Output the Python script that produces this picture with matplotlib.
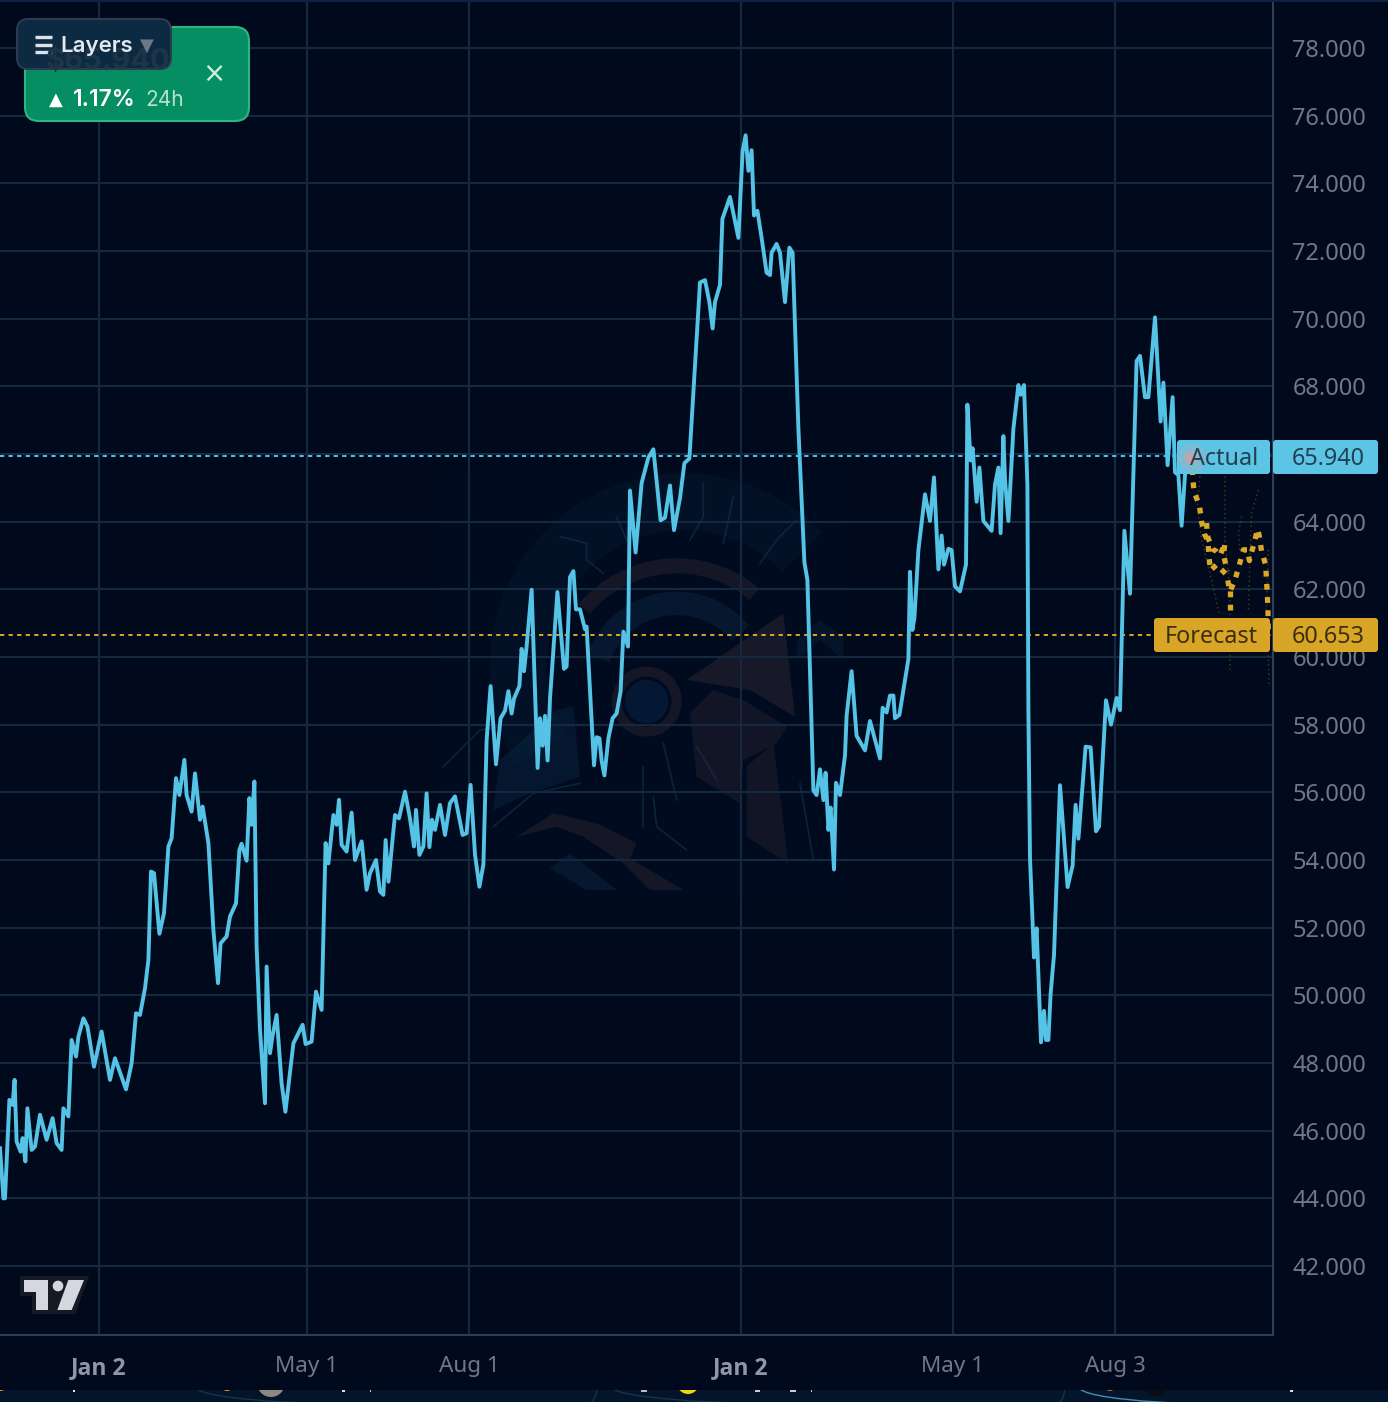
import matplotlib
matplotlib.use("Agg")
import matplotlib.pyplot as plt
from matplotlib.patches import FancyBboxPatch, Rectangle, Polygon, Circle, Wedge

# ---------- data (x = bar number on the time axis, y = price in thousands) ----------
price_bars = [0,1.7,2.5,4.7,6.3,7.3,8.3,10.3,11.3,12.7,13.7,15.8,17.5,20,23.3,26.3,28.3,30.8,31.7,34.2,35.8,38,39.2,41.7,43.7,47,50.8,55,57.5,63,65.8,68,70,72.5,74.2,75.5,77,79.7,82,84.2,85.8,88,89.7,92.2,93.3,95.8,97.5,100,101.3,104.2,106.7,109,110.3,113.3,115,118,119.7,120.8,123.3,124.7,125.8,127.2,128.3,130,132.5,133.3,135,136.2,138.3,140.8,142.7,146.7,151.3,152.8,155.8,158,160.8,162.8,164.2,166.7,168.3,169.5,170.8,173.3,175.8,177.5,180.8,183.3,185,188,190,191.7,192.8,194.2,197.5,199.5,202.5,205,207,208,209.7,211.7,213.3,214.7,216,217.5,220,222.5,225,227.5,231.3,233.3,235.3,
237.5,239.7,241.7,243.3,245.3,248,250.3,252.5,254.2,255.8,257,259.7,260.8,262,263.3,265.8,268.8,270,271.3,272.5,273.8,275,278.7,282,283.3,285,286.7,288,290,292.5,293.3,297,298.3,299.7,300.8,302.2,304.2,306.3,308.3,310.3,311.7,314,315,317.8,320.8,324.2,326.7,330.3,332.5,335,337,340,342.2,344.7,350,352.5,354.7,356.3,357.5,360,361.2,365,369.2,371.3,372.8,374.2,375.8,377,378.7,380.8,383.3,385,385.8,388.3,390,392.5,394.7,396.3,399.2,402.2,403.7,406.7,408.3,410,411.7,412.8,414.2,415.3,417,418,420,422.5,423.3,425.8,428.3,432.5,435,
440,441.3,443.3,445,446.7,447.5,449.7,454.2,455,456.2,457.2,459.2,462.5,465,467,469.2,470.8,472,474.2,475.8,477.5,480,483,483.7,485.3,486.3,488.3,489.7,491.7,495.8,497.5,499.2,500.3,501.7,502.5,504.2,506.7,509.2,510.3,512,513.7,514.2,515,517,518.3,520.5,522,523,524.2,525.3,527,530,533.8,536.3,537.8,539.2,542.8,545.3,548,549.5,553,555.5,558.3,560,562.2,565,568.3,570,572.5,574.2,577.5,580.3,581.7,583.8,586.3,587.5,589.2,590.8,592.5,594,596]
price_vals = [45.48,44.0,44.0,46.91,46.76,47.5,45.68,45.38,45.78,45.09,46.66,45.43,45.53,46.47,45.73,46.37,45.63,45.43,46.66,46.42,48.68,48.19,48.78,49.32,49.08,47.89,48.93,47.5,48.14,47.22,47.99,49.47,49.42,50.21,51.05,53.66,53.61,51.82,52.43,54.4,54.64,56.42,55.92,56.96,55.92,55.43,56.56,55.19,55.58,54.5,51.93,50.36,51.54,51.74,52.33,52.72,54.3,54.48,53.98,55.83,55.04,56.32,51.44,48.98,46.81,50.85,48.29,48.78,49.42,47.4,46.56,48.58,49.13,48.56,48.63,50.11,49.57,54.5,53.9,55.33,55.04,55.78,54.45,54.25,55.4,54.0,54.55,53.12,53.61,54.0,53.07,52.97,54.59,53.36,55.33,55.23,56.02,55.23,54.4,55.48,54.15,54.4,55.97,54.38,55.19,54.89,55.63,54.74,55.68,55.88,54.74,54.79,56.22,
54.16,53.21,53.87,57.53,59.14,56.83,58.19,58.41,58.99,58.33,58.77,59.14,60.24,59.58,60.31,61.99,56.72,58.19,57.38,58.26,56.94,58.77,61.92,59.65,59.72,62.36,62.54,61.41,61.41,60.82,60.9,56.8,57.63,57.6,56.94,56.5,57.6,58.19,58.33,58.99,60.75,60.31,64.92,63.09,65.14,65.9,66.14,64.04,64.12,65.07,63.75,64.7,65.73,65.87,71.07,71.14,70.49,69.71,70.49,71.0,72.95,73.6,72.39,74.95,75.42,74.37,74.98,73.05,73.19,72.39,71.36,71.29,71.95,72.21,71.95,70.49,72.1,71.95,66.75,62.8,62.28,56.06,55.92,56.68,55.77,56.58,54.89,55.55,53.72,56.28,55.92,57.09,58.26,59.58,57.67,57.24,58.11,
57.0,58.5,58.36,58.86,58.86,58.19,58.29,59.94,62.52,60.8,61.15,63.16,64.81,64.02,65.31,62.59,63.59,62.73,63.2,63.16,62.09,61.94,62.73,67.46,65.81,66.17,64.59,65.6,64.02,63.73,65.1,65.6,63.66,66.53,65.24,64.02,66.75,68.04,67.75,68.04,65.1,58.36,54.06,51.12,51.98,48.61,49.54,48.68,48.68,50.04,51.19,56.21,53.2,53.84,55.63,54.63,57.35,57.33,54.85,54.99,58.72,58.0,58.79,58.43,63.73,61.87,68.75,68.9,67.68,67.68,70.04,66.96,68.11,65.67,67.68,65.46,65.38,63.88,65.38,65.6,65.94]

forecast_bars = [596,596.3,597,599.7,600.8,602.2,604,604.5,605.3,608.3,610.8,613.3,615,617.5,619.7,621.7,623.7,624.7,626.7,628.8,629.7,630.8,632.8,633.3,633.7,634,634.2]
forecast_vals = [65.94,65.34,64.89,64.48,64.0,63.64,63.42,62.95,62.56,62.73,62.58,62.43,61.94,62.28,62.73,63.17,63.17,62.85,63.29,63.78,63.56,63.12,62.73,62.23,61.79,61.33,60.65]
branch_a_bars = [603.3,603.6,606,608.3,610,612.5,611.7,613.7]
branch_a_vals = [63.96,63.6,63.2,63.12,63.0,63.37,63.02,62.53]
branch_b_bars = [615,615]
branch_b_vals = [61.94,61.3]
scenario_bars = [[600,598.7,600.8,605.8,609.7],[612.5,612.5,614.2,615,615],[629.2,625.8,625,624.2],[620.8,619.2,620],[634.2,633.3,634.2,634.5]]
scenario_vals = [[65.34,64.45,63.46,62.28,61.25],[65.34,63.46,62.48,61.5,59.62],[64.94,64.25,62.97,61.4],[64.15,63.66,63.07],[63.17,61.49,60.0,59.13]]

actual_price = 65.94
forecast_price = 60.653
y_ticks = list(range(42, 80, 2))
y_tick_labels = [f"{v}.000" if v != 66 else "" for v in y_ticks]
x_ticks = [49.5, 153.5, 234.5, 370.5, 476.5, 557.5]
x_tick_labels = ["Jan 2", "May 1", "Aug 1", "Jan 2", "May 1", "Aug 3"]
x_tick_bold = [True, False, False, True, False, False]

BG = "#010a1c"; GRID = "#14283f"; SPINE = "#2a3f58"; TXT = "#6f7888"
CYAN = "#55c3e6"; GOLD = "#dba726"
W, H = 1388, 1402

plt.rcParams["font.family"] = ["Noto Sans", "DejaVu Sans"]
fig = plt.figure(figsize=(W/100, H/100), dpi=100, facecolor=BG)

def overlay(z):
    a = fig.add_axes([0, 0, 1, 1], zorder=z)
    a.set_xlim(0, W); a.set_ylim(H, 0); a.axis("off"); a.patch.set_alpha(0)
    return a

# ---------- watermark behind the chart ----------
lg = overlay(0)
def z(x, y): return (430 + x/3, 460 + y/3)
def zs(pts): return [z(*p) for p in pts]
BLUE = "#0b2a46"; BROWN = "#2a2430"
lg.add_patch(Rectangle((440, 470), 405, 430, fc="#010b1f", ec="none"))
lg.add_patch(Wedge(z(760, 620), 580/3, 150, 316, width=170/3, fc=BLUE, alpha=.2, ec="none"))
lg.add_patch(Wedge(z(740, 680), 385/3, 220, 310, width=45/3, fc=BROWN, alpha=.5, ec="none"))
lg.add_patch(Wedge(z(740, 680), 285/3, 200, 320, width=70/3, fc=BLUE, alpha=.45, ec="none"))
lg.add_patch(Wedge(z(650, 725), 105/3, 0, 360, width=30/3, fc=BROWN, alpha=.5, ec="none"))
lg.add_patch(Circle(z(650, 725), 65/3, fc="#08264a", alpha=.5, ec="none"))
for pts, c, al in [
    ([(770,660),(1060,460),(1095,770),(960,690)], BROWN, .55),
    ([(780,760),(850,690),(940,720),(1070,800),(1040,850),(940,900),(930,1030),(800,950)], BROWN, .42),
    ([(950,1130),(950,920),(1030,850),(1075,1210)], BROWN, .42),
    ([(260,1130),(370,1060),(500,1090),(620,1150),(600,1195),(760,1290),(660,1290),(580,1210),(460,1130),(380,1100)], BROWN, .5),
    ([(360,1225),(420,1180),(560,1290),(470,1290)], BLUE, .45),
    ([(430,740),(450,950),(300,1000),(190,1050),(210,900),(380,750)], BLUE, .42),
    ([(1170,480),(1240,530),(1240,600),(1170,540),(1100,600),(1100,540)], BLUE, .3),
]:
    lg.add_patch(Polygon(zs(pts), closed=True, fc=c, alpha=al, ec="none"))
for pts in [[(560,170),(590,240)], [(390,230),(470,250),(470,300),(520,340)], [(820,70),(820,170),(780,240)],
            [(910,110),(880,250)], [(1100,180),(1040,240),(990,310)], [(640,920),(640,1100)], [(700,850),(740,1020)],
            [(800,860),(860,960)], [(670,1010),(680,1100),(770,1170)], [(40,920),(150,810),(210,800)],
            [(190,1100),(310,1000),(450,970)], [(1110,970),(1150,1200)]]:
    xs, ys = zip(*zs(pts))
    lg.plot(xs, ys, color="#123352", lw=1.2, alpha=.6)

# ---------- main chart ----------
ax = fig.add_axes([0, 1 - 1335/H, 1273/W, 1335/H], zorder=1)
ax.patch.set_alpha(0)
ax.set_xlim(0, 636.5)
ax.set_ylim(39.96, 79.42)
ax.grid(True, color=GRID, lw=1.5)
ax.set_axisbelow(True)
ax.yaxis.tick_right()
ax.set_yticks(y_ticks, y_tick_labels)
ax.set_xticks(x_ticks, x_tick_labels)
ax.tick_params(axis="y", length=0, pad=14, labelsize=17, labelcolor=TXT)
ax.tick_params(axis="x", length=0, pad=14.8, labelsize=16.2, labelcolor=TXT)
for s in ("top", "left"):
    ax.spines[s].set_visible(False)
for s in ("right", "bottom"):
    ax.spines[s].set_color(SPINE); ax.spines[s].set_linewidth(1.5)

ax.axhline(actual_price, color=CYAN, lw=1.4, ls=(0, (2.2, 2.2)))
ax.axhline(forecast_price, color=GOLD, lw=1.4, ls=(0, (2.2, 2.2)))
for b, v in zip(scenario_bars, scenario_vals):
    ax.plot(b, v, color=GOLD, lw=1.1, ls=(0, (1, 2)), alpha=.28)
ax.plot(price_bars, price_vals, color=CYAN, lw=2.8, solid_joinstyle="round")
for b, v in [(forecast_bars, forecast_vals), (branch_a_bars, branch_a_vals), (branch_b_bars, branch_b_vals)]:
    ax.plot(b, v, color=GOLD, lw=3.8, ls=(0, (1.1, 1.4)))

fig.canvas.draw()
for tick, b in zip(ax.xaxis.get_major_ticks(), x_tick_bold):
    if b:
        tick.label1.set_family("Open Sans")
        tick.label1.set_fontweight("bold")
        tick.label1.set_fontsize(16.6)
        tick.label1.set_color("#8f97a6")

# ---------- interface chrome ----------
top = overlay(2)
top.add_patch(Rectangle((0, 0), W, 2, fc="#0d2240", ec="none"))
# bottom strip
strip = Rectangle((0, 1390), W, 12, transform=top.transData)
top.add_patch(Rectangle((0, 1390), W, 12, fc="#04152b", ec="none", zorder=1))
for x0, x1, ec in [(195, 597, "#17324c"), (611, 1065, "#17324c"), (1078, 1440, "#3f90b0")]:
    p = FancyBboxPatch((x0, 1300), x1-x0, 108, boxstyle="round,pad=0,rounding_size=22", fc="none", ec=ec, lw=1, zorder=2)
    top.add_patch(p)
    p.set_clip_path(strip)
for cx, cy, r, c in [(1, 1386, 5, "#e08a1c"), (227, 1385, 6, "#e8a010"), (271, 1383, 14, "#8f8880"),
                     (688, 1383, 11, "#f2d410"), (688, 1381, 9, "#d070a0"), (1110, 1386, 5, "#e0701c"), (1155, 1383, 13, "#0a0d14")]:
    d = Circle((cx, cy), r, fc=c, ec="none", zorder=4)
    top.add_patch(d)
    d.set_clip_path(strip)
for x, w, c in [(73,2,"#e8e8e8"),(342,3,"#dddddd"),(370,1.5,"#cccccc"),(641,6,"#bbbbbb"),(755,5,"#cccccc"),(790,6,"#cccccc"),(811,1.5,"#cccccc"),(1290,3,"#dddddd")]:
    top.add_patch(Rectangle((x, 1390), w, 1.6, fc=c, ec="none", zorder=4))

# green badge
top.add_patch(FancyBboxPatch((25, 27), 224, 94, boxstyle="round,pad=0,rounding_size=14", fc="#068e63", ec="#2fb585", lw=1.5))
top.text(56, 100, "▲", color="white", fontsize=13, ha="center", va="center", family="DejaVu Sans")
top.text(73, 100, "1.17%", color="white", fontsize=16.5, fontweight="semibold", family="Inter", ha="left", va="center")
top.text(145, 100, "24h", color="#b4e0cf", fontsize=15, family="Inter", ha="left", va="center")
top.text(214, 74, "×", color="#cfeee2", fontsize=20, ha="center", va="center", family="DejaVu Sans")
# layers button
lb = FancyBboxPatch((17, 19), 154, 50, boxstyle="round,pad=0,rounding_size=11", fc="#0c2a42", ec="#2b3b50", lw=1.5)
top.add_patch(lb)
ghost = top.text(46, 62, "$65.940", color="#1e3548", fontsize=21, fontweight="bold", family="Inter", ha="left", va="center")
ghost.set_clip_path(lb)
for yy in (37, 45, 52):
    top.plot([35, 52], [yy, yy], color="#dde2ea", lw=2.4, solid_capstyle="butt")
top.text(60, 45.5, "Layers", color="#e3e7ee", fontsize=16, fontweight="semibold", family="Inter", ha="left", va="center")
top.text(147, 46, "▼", color="#6f7888", fontsize=13, ha="center", va="center", family="DejaVu Sans")

# price labels
for x0, y0, h, c, tc, name, val in [
    (1177, 440, 34, "#5cc5e6", "#23404f", "Actual", "65.940"),
    (1154, 618, 34, "#d9a526", "#3a3010", "Forecast", "60.653"),
]:
    top.add_patch(FancyBboxPatch((x0, y0), 1270-x0, h, boxstyle="round,pad=0,rounding_size=3", fc=c, ec="none"))
    top.add_patch(FancyBboxPatch((1273, y0), 105, h, boxstyle="round,pad=0,rounding_size=3", fc=c, ec="none"))
    top.text(1258, y0+h/2+2, name, color=tc, fontsize=16.8, ha="right", va="center")
    top.text(1365, y0+h/2+2, val, color=tc, fontsize=16.8, ha="right", va="center")
top.add_patch(Circle((1192, 458), 14, fc="#b9a9b5", alpha=.35, ec="none"))
top.add_patch(Circle((1191, 458), 6.5, fc="#c4a4ae", alpha=.9, ec="none"))

# TradingView mark
def t(x, y): return (x/3, 1260 + y/3)
top.add_patch(Polygon([t(60,48),t(268,48),t(225,162),t(96,162),t(96,108),t(60,108)], fc="#161a25", ec="none"))
top.add_patch(Polygon([t(72,60),t(145,60),t(145,150),t(108,150),t(108,97),t(72,97)], fc="#d4d6e0", ec="none"))
top.add_patch(Circle(t(174,78), 16/3, fc="#d4d6e0", ec="none"))
top.add_patch(Polygon([t(205,60),t(252,60),t(215,150),t(172,150)], fc="#d4d6e0", ec="none"))

fig.savefig("out.png", dpi=100, facecolor=BG)
